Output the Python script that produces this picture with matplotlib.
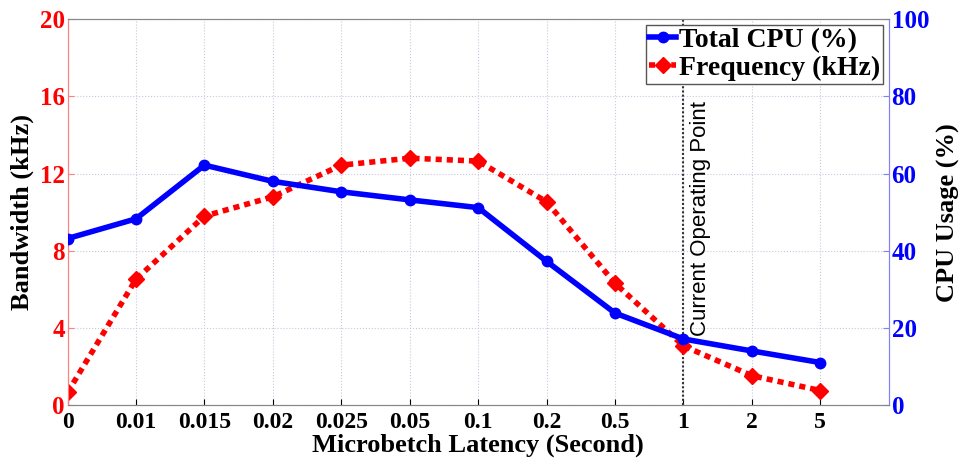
import matplotlib
matplotlib.use('Agg')
import matplotlib.pyplot as plt

latency = ['0', '0.01', '0.015', '0.02', '0.025', '0.05', '0.1', '0.2', '0.5', '1', '2', '5']
cpu_pct = [43.2, 48.3, 62.2, 58.0, 55.3, 53.2, 51.2, 37.3, 23.9, 17.2, 14.1, 11.1]
freq_khz = [0.67, 6.53, 9.8, 10.8, 12.44, 12.8, 12.65, 10.54, 6.32, 3.08, 1.54, 0.77]
operating_point = '1'

serif = 'Liberation Serif'
x = list(range(len(latency)))

fig, ax = plt.subplots(figsize=(9.65, 4.66), dpi=100)
fig.subplots_adjust(left=0.07, right=0.921, top=0.959, bottom=0.13)
ax2 = ax.twinx()

l2, = ax.plot(x, freq_khz, color='red', linestyle=(0, (1.1, 0.9)), linewidth=4, marker='D',
              markersize=8, label='Frequency (kHz)', zorder=3)
l1, = ax2.plot(x, cpu_pct, color='blue', linestyle='-', linewidth=4, marker='o',
               markersize=7.5, label='Total CPU (%)', zorder=3)

ax.set_xlim(0, len(latency))
ax.set_ylim(0, 20)
ax2.set_ylim(0, 100)
ax.set_xticks(x)
ax.set_xticklabels(latency)
ax.set_yticks([0, 4, 8, 12, 16, 20])
ax2.set_yticks([0, 20, 40, 60, 80, 100])

ax.grid(True, linestyle=':', color='#c8c8e0', linewidth=0.8)
ax.set_axisbelow(True)

for lab in ax.get_xticklabels():
    lab.set_fontfamily(serif)
    lab.set_fontweight('bold')
    lab.set_fontsize(17)
for lab in ax.get_yticklabels():
    lab.set_fontfamily(serif)
    lab.set_fontweight('bold')
    lab.set_fontsize(18)
    lab.set_color('red')
for lab in ax2.get_yticklabels():
    lab.set_fontfamily(serif)
    lab.set_fontweight('bold')
    lab.set_fontsize(18)
    lab.set_color('blue')

ax.tick_params(axis='x', direction='in', length=4, pad=5)
ax.tick_params(axis='y', direction='in', length=4, colors='#ff8080', labelcolor='red', pad=2)
ax2.tick_params(axis='y', direction='in', length=4, colors='#8080ff', labelcolor='blue', pad=2)

ax.set_xlabel('Microbetch Latency (Second)', fontfamily=serif, fontweight='bold',
              fontsize=19, labelpad=0)
ax.set_ylabel('Bandwidth (kHz)', fontfamily=serif, fontweight='bold', fontsize=19, labelpad=4)
ax2.set_ylabel('CPU Usage (%)', fontfamily=serif, fontweight='bold', fontsize=19, labelpad=6)

for a in (ax, ax2):
    a.spines['top'].set_color('#888888')
    a.spines['bottom'].set_color('#888888')
    a.spines['left'].set_color('#ff8080')
    a.spines['right'].set_color('#8080ff')

op = latency.index(operating_point)
ax.axvline(op, color='#333333', linestyle=(0, (1, 1)), linewidth=1.5, zorder=2)
ax.text(op + 0.1, 3.6, 'Current Operating Point', rotation=90, fontfamily='Liberation Sans',
        fontsize=16, va='bottom', ha='left', color='black')

leg = ax2.legend(handles=[l1, l2], loc='upper right', prop={'family': serif, 'weight': 'bold', 'size': 20},
                 handlelength=1.0, handletextpad=0.1, borderpad=0.1, labelspacing=0.1,
                 fancybox=False, edgecolor='#555555', framealpha=1, borderaxespad=0.2)
leg.get_frame().set_linewidth(1.0)

fig.savefig('out.png', dpi=100)
